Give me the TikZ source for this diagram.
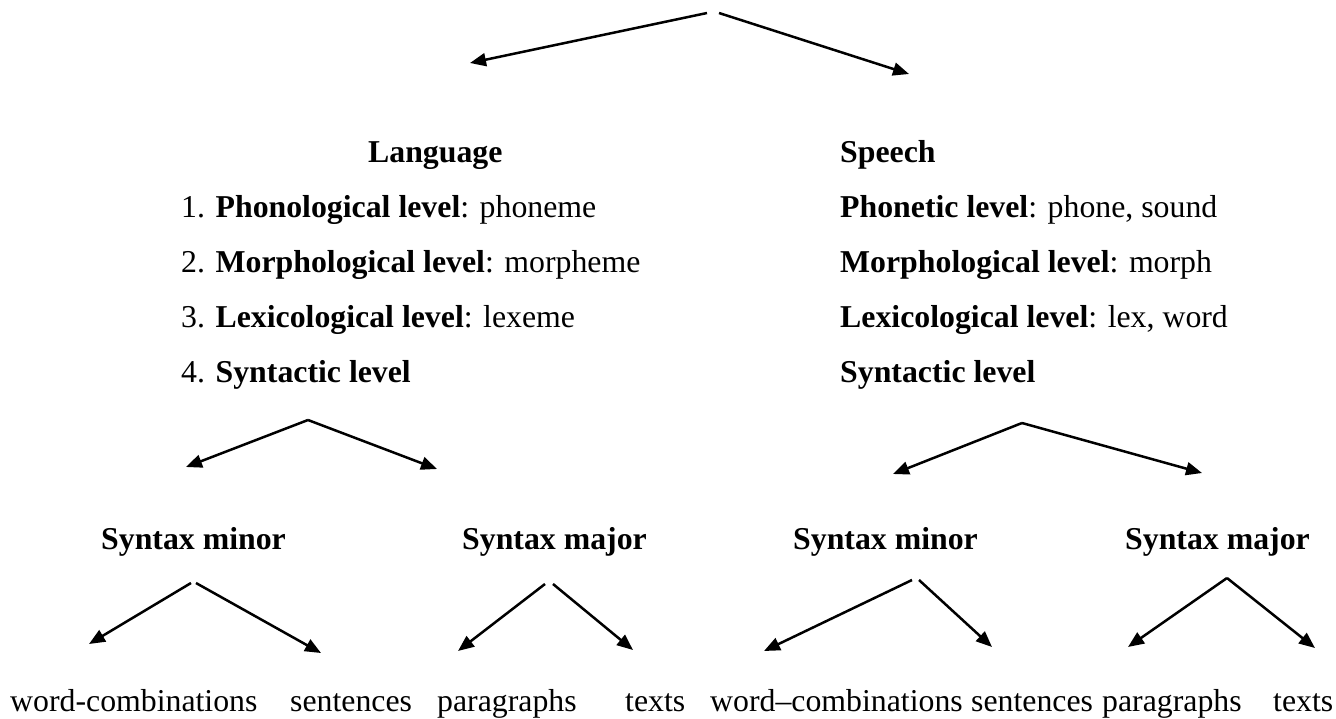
\documentclass[tikz,border=0pt]{standalone}
\usepackage{fontspec}
\setmainfont{Liberation Serif}
\usepackage{tikz}
\usetikzlibrary{arrows.meta}

\tikzset{
  txt/.style={anchor=base west,inner sep=0pt,font=\fontsize{31.8}{38}\selectfont},
  arr/.style={-{Triangle[length=16pt,width=13pt]},line width=2.5pt}
}

\begin{document}
\begin{tikzpicture}[x=1pt,y=-1pt]
\useasboundingbox (0,0) rectangle (1336,718);

% top fork
\coordinate (T1) at (707,13); \coordinate (T2) at (719,13);
\coordinate (TL) at (470,63); \coordinate (TR) at (909,74);
\draw[arr] (T1)--(TL);
\draw[arr] (T2)--(TR);

% language column
\node[txt] (Lang) at (368,162) {\textbf{Language}};
\node[txt] (L1) at (181,217) {1. \textbf{Phonological level}: phoneme};
\node[txt] (L2) at (181,272) {2. \textbf{Morphological level}: morpheme};
\node[txt] (L3) at (181,327) {3. \textbf{Lexicological level}: lexeme};
\node[txt] (L4) at (181,382) {4. \textbf{Syntactic level}};

% speech column
\node[txt] (Sp) at (840,162) {\textbf{Speech}};
\node[txt] (S1) at (840,217) {\textbf{Phonetic level}: phone, sound};
\node[txt] (S2) at (840,272) {\textbf{Morphological level}: morph};
\node[txt] (S3) at (840,327) {\textbf{Lexicological level}: lex, word};
\node[txt] (S4) at (840,382) {\textbf{Syntactic level}};

% syntactic forks
\coordinate (LA) at (308,420); \coordinate (LAl) at (186,467); \coordinate (LAr) at (437,469);
\draw[arr] (LA)--(LAl);
\draw[arr] (LA)--(LAr);
\coordinate (SA) at (1022,423); \coordinate (SAl) at (893,474); \coordinate (SAr) at (1202,473);
\draw[arr] (SA)--(SAl);
\draw[arr] (SA)--(SAr);

\node[txt] (Lmin) at (101,549) {\textbf{Syntax minor}};
\node[txt] (Lmaj) at (462,549) {\textbf{Syntax major}};
\node[txt] (Smin) at (793,549) {\textbf{Syntax minor}};
\node[txt] (Smaj) at (1125,549) {\textbf{Syntax major}};

% bottom forks
\coordinate (A1) at (191,583); \coordinate (A2) at (196,583);
\coordinate (A1t) at (89,644); \coordinate (A2t) at (321,653);
\draw[arr] (A1)--(A1t);
\draw[arr] (A2)--(A2t);
\coordinate (B1) at (545,584); \coordinate (B2) at (553,584);
\coordinate (B1t) at (458,651); \coordinate (B2t) at (633,650);
\draw[arr] (B1)--(B1t);
\draw[arr] (B2)--(B2t);
\coordinate (C1) at (912,580); \coordinate (C2) at (919,580);
\coordinate (C1t) at (764,651); \coordinate (C2t) at (992,647);
\draw[arr] (C1)--(C1t);
\draw[arr] (C2)--(C2t);
\coordinate (D) at (1227,578);
\coordinate (D1t) at (1128,647); \coordinate (D2t) at (1315,648);
\draw[arr] (D)--(D1t);
\draw[arr] (D)--(D2t);

% bottom row
\node[txt] (W1) at (10,711) {word-combinations};
\node[txt] (Se1) at (290,711) {sentences};
\node[txt] (P1) at (437,711) {paragraphs};
\node[txt] (X1) at (625,711) {texts};
\node[txt] (W2) at (710,711) {word--combinations};
\node[txt] (Se2) at (971,711) {sentences};
\node[txt] (P2) at (1102,711) {paragraphs};
\node[txt] (X2) at (1273,711) {texts};

\end{tikzpicture}
\end{document}
